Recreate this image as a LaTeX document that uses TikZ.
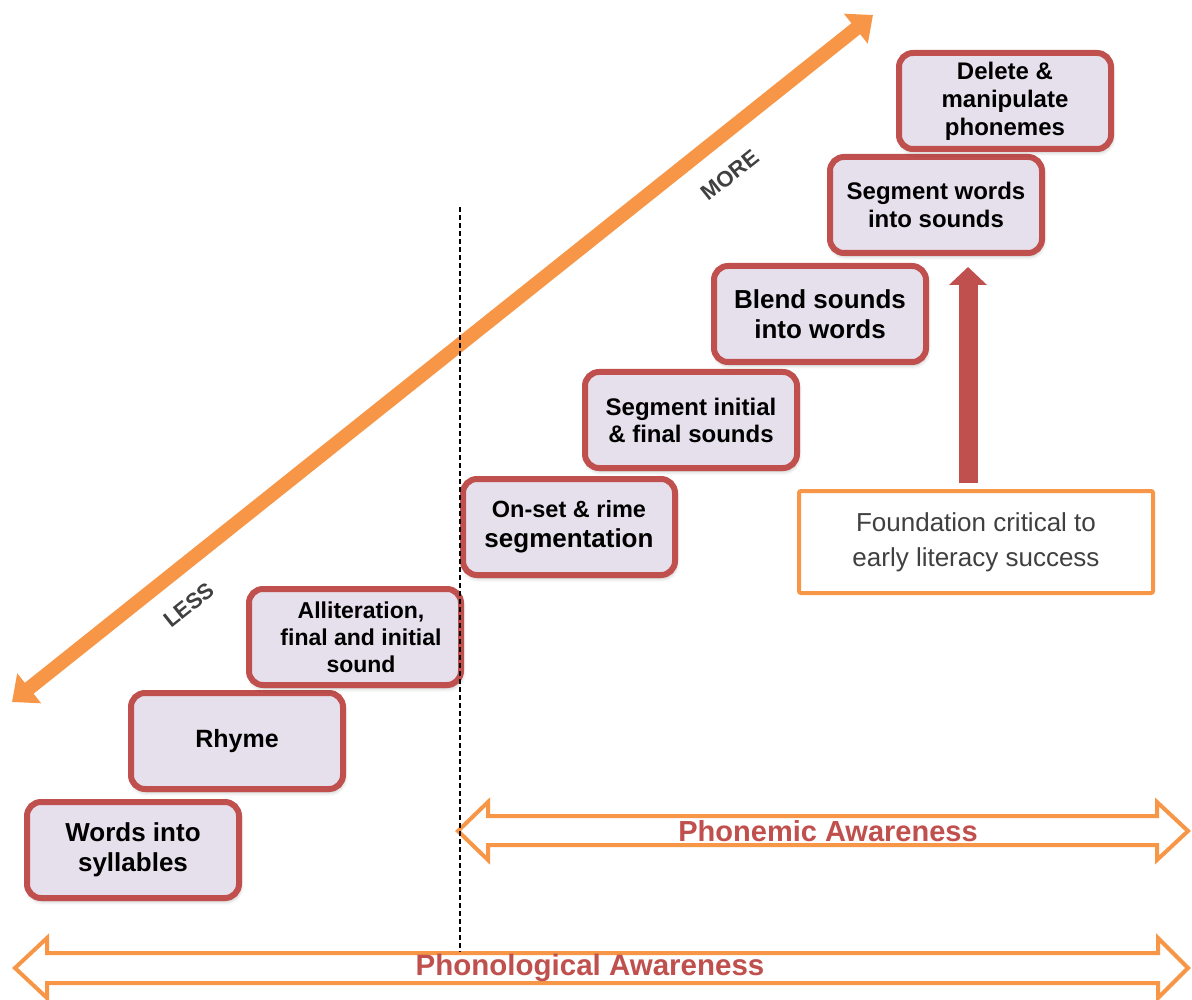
\documentclass[tikz,border=0pt]{standalone}
\usepackage{fontspec}
\setmainfont{Liberation Sans}
\usetikzlibrary{arrows.meta,shadows.blur}
\definecolor{boxred}{HTML}{C0504D}
\definecolor{boxfill}{HTML}{E6E0EC}
\definecolor{orng}{HTML}{F79646}
\definecolor{txtgray}{HTML}{404040}
\begin{document}
\begin{tikzpicture}[x=1pt,y=-1pt,
  stepbox/.style={draw=boxred, fill=boxfill, line width=6pt, rounded corners=14pt,
    minimum width=212pt, minimum height=96pt, align=center, text=black,
    font=\bfseries\fontsize{24}{28}\selectfont,
    blur shadow={shadow xshift=1pt, shadow yshift=-3pt, shadow blur radius=4pt, shadow opacity=30}},
  fs/.style 2 args={font=\bfseries\fontsize{#1}{#2}\selectfont},
  dblarrow/.style={draw=orng, line width=4pt, line join=miter, fill=white},
  palabel/.style={text=boxred, font=\bfseries\fontsize{29}{33}\selectfont, inner sep=0pt},
  diag/.style={draw=orng, line width=14pt,
    {Triangle[width=37pt,length=22pt]}-{Triangle[width=37pt,length=22pt]}},
  lesslbl/.style={text=txtgray, font=\bfseries\fontsize{22}{26}\selectfont, rotate=38.6},
  foundbox/.style={draw=orng, fill=white, line width=4pt, rounded corners=2pt,
    minimum width=354pt, minimum height=102pt, align=center, text=txtgray,
    font=\fontsize{26}{35}\selectfont},
  uparrow/.style={draw=boxred, line width=19pt, -{Triangle[width=37pt,length=18pt]}},
  divider/.style={draw=black, line width=1.5pt, dash pattern=on 5pt off 3pt}
]
\useasboundingbox (0,0) rectangle (1192,1000);

% diagonal arrow
\coordinate (lessend) at (12,702);
\coordinate (moreend) at (873,15);
\draw[diag] (lessend) -- (moreend);
\node[lesslbl] (less) at (189,605) {LESS};
\node[lesslbl] (more) at (730,175) {MORE};

% steps
\node[stepbox, fs={26}{30}] (b1) at (133,850) {Words into\\syllables};
\node[stepbox, fs={25}{29}] (b2) at (237,741) {Rhyme};
\node[stepbox, fs={23}{27}] (b3) at (355,637) {\hspace*{12pt}Alliteration,\\\hspace*{12pt}final and initial\\\hspace*{12pt}sound};
\node[stepbox, fs={23.5}{30}] (b4) at (569,527) {On-set \& rime\\{\fontsize{26}{30}\selectfont segmentation}};
\node[stepbox, fs={24}{27}] (b5) at (691,420) {Segment initial\\\& final sounds};
\node[stepbox, fs={26}{30}] (b6) at (820,314) {Blend sounds\\into words};
\node[stepbox, fs={24}{28}] (b7) at (936,205) {Segment words\\into sounds};
\node[stepbox, fs={24}{28}] (b8) at (1005,101) {Delete \&\\manipulate\\phonemes};

% foundation
\node[foundbox] (found) at (976,542) {Foundation critical to\\early literacy success};
\draw[uparrow] ([xshift=-8pt,yshift=6pt]found.north) -- ([xshift=32pt,yshift=-11pt]b7.south);

% phonemic awareness arrow
\draw[dblarrow] (458,831) -- (488,802) -- (488,816) -- (1157,816) -- (1157,802)
  -- (1188,831) -- (1157,860) -- (1157,845) -- (488,845) -- (488,860) -- cycle;
\node[palabel] (phonemic) at (828,831) {Phonemic Awareness};

% phonological awareness arrow
\draw[dblarrow] (15,968) -- (47,938) -- (47,953) -- (1158,953) -- (1158,938)
  -- (1188,968) -- (1158,998) -- (1158,983) -- (47,983) -- (47,998) -- cycle;
\node[palabel, font=\bfseries\fontsize{29.5}{33}\selectfont] (phonological) at (590,968) {Phonological Awareness};

% divider
\coordinate (dtop) at (460,207);
\coordinate (dbot) at (460,952);
\draw[divider] (dtop) -- (dbot);
\end{tikzpicture}
\end{document}
